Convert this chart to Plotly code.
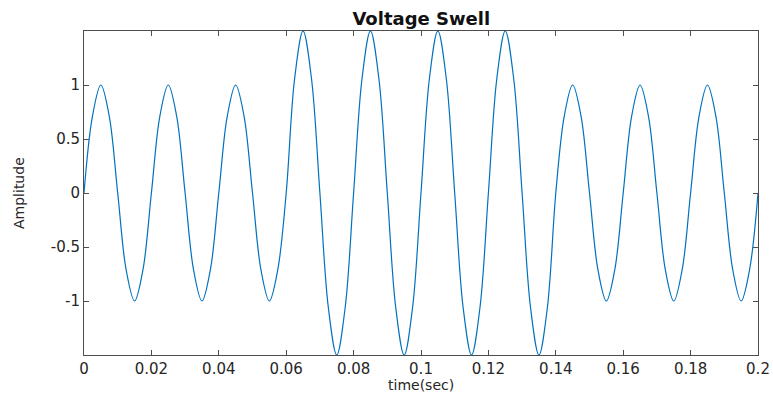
import plotly.graph_objects as go

# Key points of the waveform (every eighth of a period, 50 Hz)
time_sec = [
    0.0, 0.0025, 0.005, 0.0075, 0.01, 0.0125, 0.015, 0.0175,
    0.02, 0.0225, 0.025, 0.0275, 0.03, 0.0325, 0.035, 0.0375,
    0.04, 0.0425, 0.045, 0.0475, 0.05, 0.0525, 0.055, 0.0575,
    0.06, 0.0625, 0.065, 0.0675, 0.07, 0.0725, 0.075, 0.0775,
    0.08, 0.0825, 0.085, 0.0875, 0.09, 0.0925, 0.095, 0.0975,
    0.1, 0.1025, 0.105, 0.1075, 0.11, 0.1125, 0.115, 0.1175,
    0.12, 0.1225, 0.125, 0.1275, 0.13, 0.1325, 0.135, 0.1375,
    0.14, 0.1425, 0.145, 0.1475, 0.15, 0.1525, 0.155, 0.1575,
    0.16, 0.1625, 0.165, 0.1675, 0.17, 0.1725, 0.175, 0.1775,
    0.18, 0.1825, 0.185, 0.1875, 0.19, 0.1925, 0.195, 0.1975,
    0.2,
]
amplitude = [
    0, 0.71, 1, 0.71, 0, -0.71, -1, -0.71,
    0, 0.71, 1, 0.71, 0, -0.71, -1, -0.71,
    0, 0.71, 1, 0.71, 0, -0.71, -1, -0.71,
    0, 1.06, 1.5, 1.06, 0, -1.06, -1.5, -1.06,
    0, 1.06, 1.5, 1.06, 0, -1.06, -1.5, -1.06,
    0, 1.06, 1.5, 1.06, 0, -1.06, -1.5, -1.06,
    0, 1.06, 1.5, 1.06, 0, -1.06, -1.5, -1.06,
    0, 0.71, 1, 0.71, 0, -0.71, -1, -0.71,
    0, 0.71, 1, 0.71, 0, -0.71, -1, -0.71,
    0, 0.71, 1, 0.71, 0, -0.71, -1, -0.71,
    0,
]

x_ticks = [0, 0.02, 0.04, 0.06, 0.08, 0.1, 0.12, 0.14, 0.16, 0.18, 0.2]
x_tick_labels = ["0", "0.02", "0.04", "0.06", "0.08", "0.1", "0.12", "0.14", "0.16", "0.18", "0.2"]
y_ticks = [-1, -0.5, 0, 0.5, 1]
y_tick_labels = ["-1", "-0.5", "0", "0.5", "1"]

axis_color = "#4d4d4d"
text_color = "#262626"
font_family = "DejaVu Sans, Verdana, sans-serif"
W, H = 773, 394

fig = go.Figure()
fig.add_trace(go.Scatter(
    x=time_sec, y=amplitude, mode="lines",
    line=dict(color="#0072BD", width=1.2, shape="spline", smoothing=1.0),
    showlegend=False, hoverinfo="skip",
))

fig.update_layout(
    width=W, height=H,
    margin=dict(l=84, r=15, t=31, b=39, autoexpand=False),
    paper_bgcolor="white", plot_bgcolor="white",
    font=dict(family=font_family, size=15, color=text_color),
    title=dict(text="<b>Voltage Swell</b>", x=0.545, xanchor="center",
               y=1 - 19 / H, yanchor="middle",
               font=dict(size=18, color="#111111")),
    annotations=[
        dict(text="time(sec)", xref="paper", yref="paper", x=0.5, y=-(385 - 355) / (H - 70),
             xanchor="center", yanchor="middle", showarrow=False,
             font=dict(size=14, color=text_color)),
        dict(text="Amplitude", xref="paper", yref="paper", x=-(84 - 19) / (W - 99), y=0.5,
             xanchor="center", yanchor="middle", textangle=-90, showarrow=False,
             font=dict(size=14, color=text_color)),
    ],
)
fig.update_xaxes(
    range=[0, 0.2], tickvals=x_ticks, ticktext=x_tick_labels, automargin=False,
    showgrid=False, zeroline=False, showline=True, linecolor=axis_color, linewidth=1,
    mirror="allticks", ticks="inside", ticklen=5, tickcolor=axis_color,
    tickfont=dict(size=15, color=text_color), ticklabelstandoff=0,
)
fig.update_yaxes(
    range=[-1.5, 1.5], tickvals=y_ticks, ticktext=y_tick_labels, automargin=False,
    showgrid=False, zeroline=False, showline=True, linecolor=axis_color, linewidth=1,
    mirror="allticks", ticks="inside", ticklen=5, tickcolor=axis_color,
    tickfont=dict(size=15, color=text_color),
)

fig.write_html("out.html")
